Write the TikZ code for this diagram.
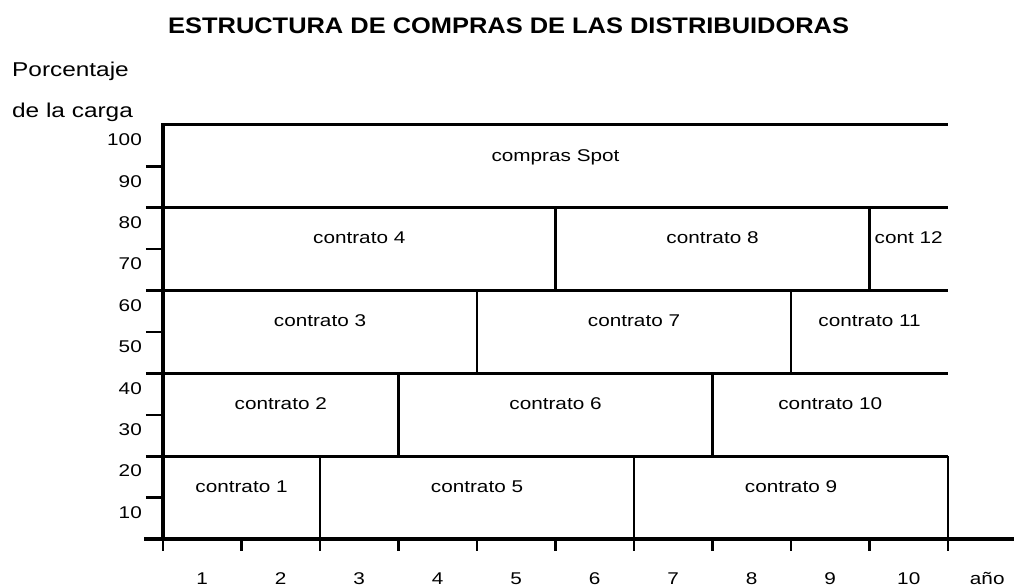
\documentclass[tikz,border=0pt]{standalone}
\usepackage{fontspec}
\setmainfont{Liberation Sans}
\newfontfamily\bodyfont[FakeStretch=1.22]{Liberation Sans}
\newfontfamily\titlefont[FakeStretch=1.13]{Liberation Sans}

\tikzset{
  txt/.style={font=\bodyfont\fontsize{17}{20}\selectfont, anchor=base, inner sep=0pt},
  bigtxt/.style={font=\bodyfont\fontsize{20}{24}\selectfont, anchor=base west, inner sep=0pt},
  rowline/.style={line width=3pt},
  sepline/.style={line width=2.8pt},
  axisline/.style={line width=4pt, line cap=rect},
  tickline/.style={line width=2.5pt}
}

\begin{document}
\begin{tikzpicture}[x=78.5pt, y=4.14pt]
        \useasboundingbox (-163pt,-48pt) rectangle (851pt,539pt);
        \node[anchor=base west, inner sep=0pt, font=\titlefont\bfseries\fontsize{22.5}{27}\selectfont] (title) at (0.064, 122) {ESTRUCTURA DE COMPRAS DE LAS DISTRIBUIDORAS};
        \node[bigtxt] (ylab1) at (-1.924, 111.7) {Porcentaje};
        \node[bigtxt] (ylab2) at (-1.924, 101.7) {de la carga};
        \foreach \v in {10,20,...,100}
            \node[txt, anchor=base east] (yv\v) at (-0.2675, \v-5) {\v};
        \foreach \k in {1,...,10}
            \node[txt] (yr\k) at (\k-0.5, -10.87) {\k};
        \node[txt] (anio) at (10.5, -10.87) {año};
        \foreach \v in {10,30,...,90}
            \draw[tickline] (-0.2166, \v) -- (0, \v);
        \foreach \k in {0,...,10}
            \draw[tickline] (\k, 0) -- (\k, -2.9);
        \foreach \v in {20,40,60,80}
            \draw[rowline] (-0.2166, \v) -- (10, \v);
        \draw[rowline] (0, 100) -- (10, 100);
        \foreach \a/\b in {2/0,6/0,10/0,3/20,7/20,4/40,8/40,5/60,9/60}
            \draw[sepline] (\a, \b) -- (\a, \b+20);
        \draw[axisline] (-0.2166, 0) -- (10.83, 0);
        \draw[axisline] (0, 0) -- (0, 100);
        \node[txt] (c1) at (1, 11.3) {contrato 1};
        \node[txt] (c5) at (4, 11.3) {contrato 5};
        \node[txt] (c9) at (8, 11.3) {contrato 9};
        \node[txt] (c2) at (1.5, 31.3) {contrato 2};
        \node[txt] (c6) at (5, 31.3) {contrato 6};
        \node[txt] (c10) at (8.5, 31.3) {contrato 10};
        \node[txt] (c3) at (2, 51.3) {contrato 3};
        \node[txt] (c7) at (6, 51.3) {contrato 7};
        \node[txt] (c11) at (9, 51.3) {contrato 11};
        \node[txt] (c4) at (2.5, 71.3) {contrato 4};
        \node[txt] (c8) at (7, 71.3) {contrato 8};
        \node[txt] (c12) at (9.5, 71.3) {cont 12};
        \node[txt] (spot) at (5, 91.3) {compras Spot};
    \end{tikzpicture}
\end{document}
